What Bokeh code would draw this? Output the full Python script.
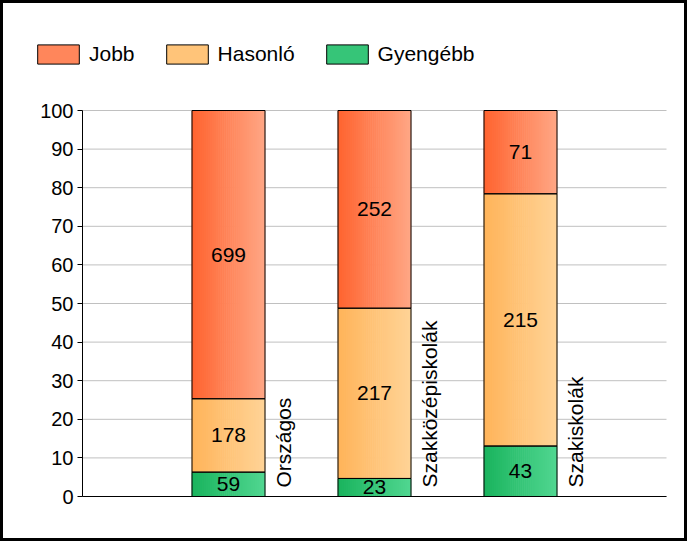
import numpy as np
from bokeh.plotting import figure
from bokeh.models import Range1d, Legend, LegendItem, ColumnDataSource, FixedTicker
from bokeh.core.properties import value
from bokeh.embed import file_html
from bokeh.resources import INLINE

# ---- data ----
categories = ["Országos", "Szakközépiskolák", "Szakiskolák"]
series_names = ["Jobb", "Hasonló", "Gyengébb"]
jobb = [699, 252, 71]
hasonlo = [178, 217, 215]
gyengebb = [59, 23, 43]
y_ticks = [0, 10, 20, 30, 40, 50, 60, 70, 80, 90, 100]

# ---- style / layout ----
FONT = "Liberation Sans"
grad = {
    "Jobb": ((255, 100, 48), (255, 166, 132)),
    "Hasonló": ((255, 180, 90), (255, 211, 150)),
    "Gyengébb": ((26, 180, 94), (80, 214, 144)),
}
BAR_W = 0.5
NSLICE = 36
W, H = 687, 541
# plot area in figure pixels
PX0, PX1, PY0, PY1 = 79, 663, 107, 493   # left, right, top, bottom
LEG_X, LEG_BOTTOM = 29, 63
X_MAX, Y_MAX = 4.0, 100.0
ux = (PX1 - PX0) / X_MAX
uy = (PY1 - PY0) / Y_MAX
x_range = Range1d(-PX0 / ux, X_MAX + (W - PX1) / ux)
y_range = Range1d(-(H - PY1) / uy, Y_MAX + PY0 / uy)

p = figure(width=W, height=H, x_range=x_range, y_range=y_range,
           output_backend="svg", toolbar_location=None,
           min_border=0, min_border_left=0, min_border_right=0,
           min_border_top=0, min_border_bottom=0)
p.styles = {"border": "3px solid black"}
p.outline_line_color = None
p.background_fill_color = "white"
p.border_fill_color = "white"
p.xgrid.grid_line_color = None
p.ygrid.grid_line_color = None

# axes fixed at the data origin
p.xaxis.fixed_location = 0
p.xaxis.bounds = (0, X_MAX)
p.xaxis.ticker = FixedTicker(ticks=[])
p.xaxis.major_tick_line_color = None
p.xaxis.minor_tick_line_color = None
p.xaxis.axis_line_color = "black"

p.yaxis.fixed_location = 0
p.yaxis.bounds = (0, Y_MAX)
p.yaxis.ticker = FixedTicker(ticks=y_ticks)
p.yaxis.minor_tick_line_color = None
p.yaxis.major_tick_in = 0
p.yaxis.major_tick_out = 5
p.yaxis.major_tick_line_color = "black"
p.yaxis.axis_line_color = "black"
p.yaxis.major_label_text_font = FONT
p.yaxis.major_label_text_font_size = "20px"
p.yaxis.major_label_text_color = "black"
p.yaxis.major_label_standoff = 4

# horizontal gridlines over the plot area
p.segment(x0=[0] * len(y_ticks), x1=[X_MAX] * len(y_ticks), y0=y_ticks, y1=y_ticks,
          line_color="#c0c0c0", line_width=1)

xs = np.arange(1, len(categories) + 1, dtype=float)
counts = {"Gyengébb": np.array(gyengebb, float),
          "Hasonló": np.array(hasonlo, float),
          "Jobb": np.array(jobb, float)}
total = counts["Gyengébb"] + counts["Hasonló"] + counts["Jobb"]

bottom = np.zeros(len(categories))
segments = []
for name in ["Gyengébb", "Hasonló", "Jobb"]:
    pct = counts[name] / total * 100.0
    top = bottom + pct
    segments.append((name, bottom.copy(), top.copy()))
    bottom = top

# gradient slices (middle slice first so that row 0 holds the middle colour)
sw = BAR_W / NSLICE
order = [(NSLICE // 2 + k) % NSLICE for k in range(NSLICE)]
slice_r, outline_r = {}, {}
for name, b, t in segments:
    c0, c1 = grad[name]
    sx, sb, st, sc = [], [], [], []
    for i in order:
        f = i / (NSLICE - 1)
        col = "#%02x%02x%02x" % tuple(int(round(c0[k] + (c1[k] - c0[k]) * f)) for k in range(3))
        for j in range(len(categories)):
            sx.append(xs[j] - BAR_W / 2 + sw * (i + 0.5))
            sb.append(b[j])
            st.append(t[j])
            sc.append(col)
    src = ColumnDataSource(dict(x=sx, bottom=sb, top=st, color=sc))
    slice_r[name] = p.vbar(x="x", bottom="bottom", top="top", width=sw * 1.3,
                           fill_color="color", line_color=None, source=src)

# outlines
for name, b, t in segments:
    outline_r[name] = p.vbar(x=xs, bottom=b, top=t, width=BAR_W, fill_color=None,
                             line_color="black", line_width=1)

# value labels
for name, b, t in segments:
    p.text(x=xs, y=(b + t) / 2, text=[str(int(v)) for v in counts[name]],
           text_align="center", text_baseline="middle",
           text_font=value(FONT), text_font_size="21px", text_color="black")

# category labels (rotated)
p.text(x=xs + 0.375, y=np.zeros(len(categories)), text=categories, angle=np.pi / 2,
       text_align="left", text_baseline="middle", y_offset=-9,
       text_font=value(FONT), text_font_size="21px", text_color="black")

# legend (swatch = middle slice colour with black outline)
items = [LegendItem(label=name, renderers=[slice_r[name], outline_r[name]], index=0)
         for name in series_names]
legend = Legend(items=items, orientation="horizontal", location=(LEG_X, H - LEG_BOTTOM),
                glyph_width=52, glyph_height=24, label_standoff=5, spacing=26,
                padding=0, margin=0, border_line_color=None, background_fill_alpha=0,
                label_text_font=FONT, label_text_font_size="21px",
                label_text_color="black", label_height=19)
p.add_layout(legend, "center")

open("out.html", "w").write(file_html(p, INLINE))
